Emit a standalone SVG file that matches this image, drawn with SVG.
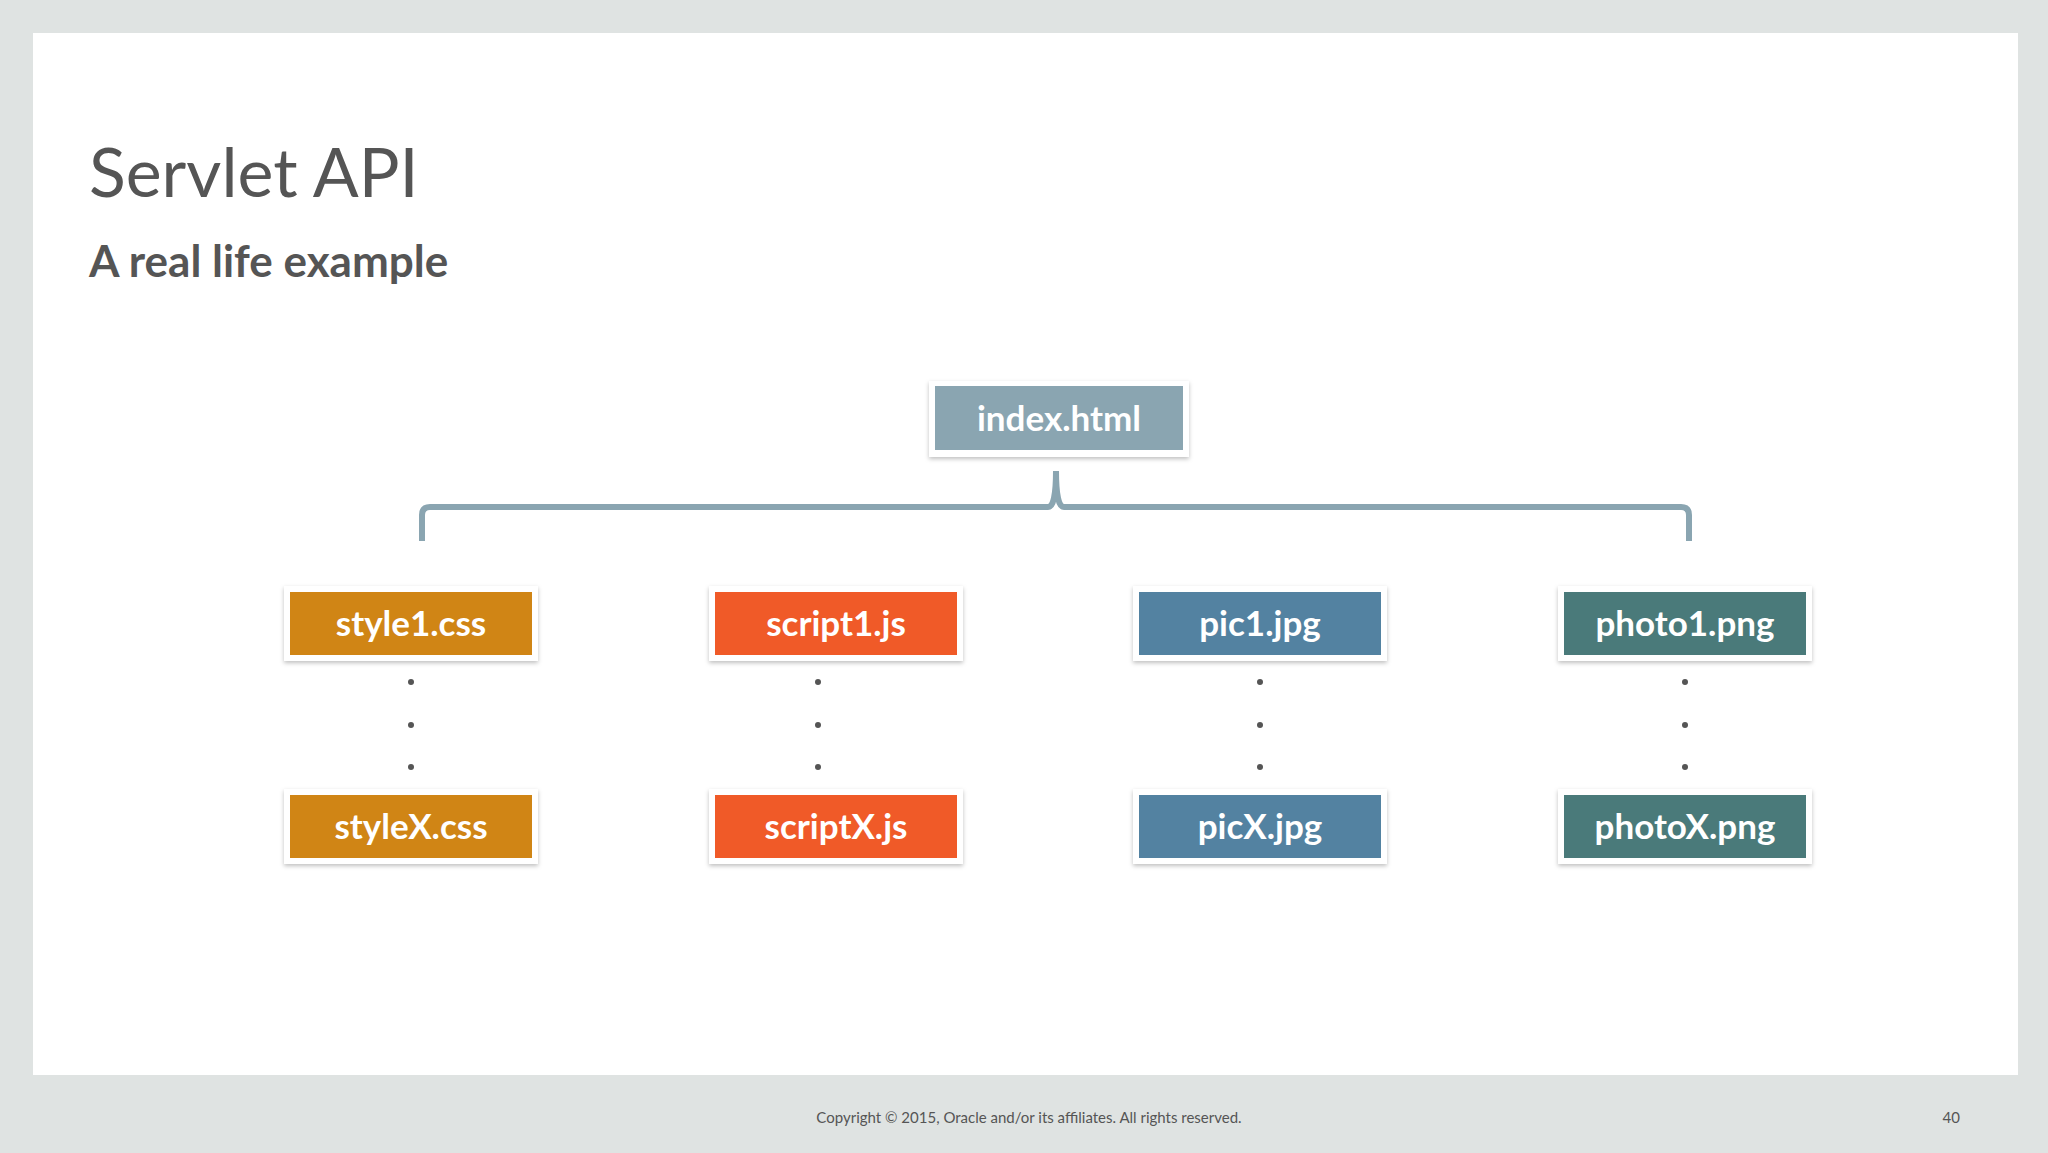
<svg xmlns="http://www.w3.org/2000/svg" width="2048" height="1153" viewBox="0 0 2048 1153">
<defs>
<filter id="sh" x="-10%" y="-20%" width="120%" height="140%"><feDropShadow dx="0" dy="2" stdDeviation="2" flood-color="#000" flood-opacity="0.25"/></filter>
<style>
.o{fill:#fff;filter:url(#sh)}
.t{font-family:Lato,"Open Sans",sans-serif;font-weight:bold;font-size:35px;fill:#fff;text-anchor:middle}
.d{fill:#555}
</style>
</defs>
<rect width="2048" height="1153" fill="#dfe3e2"/>
<rect x="33" y="33" width="1985" height="1042" fill="#fff"/>
<text x="89" y="197" font-family="Lato,'Open Sans',sans-serif" font-size="68" fill="#555">Servlet API</text>
<text x="89" y="277" font-family="Lato,'Open Sans',sans-serif" font-size="44" font-weight="bold" fill="#555">A real life example</text>
<g id="connectors">
<path d="M422 541 V515 Q422 507 430 507 H1048 Q1056 507 1056 471 Q1056 507 1064 507 H1681 Q1689 507 1689 515 V541" fill="none" stroke="#8aa5b1" stroke-width="6"/>
</g>
<g id="index"><rect class="o" x="929" y="381" width="260" height="76"/><rect x="935" y="386" width="248" height="64" fill="#8aa5b1"/><text class="t" x="1059" y="431">index.html</text></g>
<g id="style1"><rect class="o" x="284" y="586" width="254" height="75"/><rect x="290" y="592" width="242" height="63" fill="#d08515"/><text class="t" x="411" y="636">style1.css</text></g>
<g id="styleX"><rect class="o" x="284" y="789" width="254" height="75"/><rect x="290" y="795" width="242" height="63" fill="#d08515"/><text class="t" x="411" y="839">styleX.css</text></g>
<g id="script1"><rect class="o" x="709" y="586" width="254" height="75"/><rect x="715" y="592" width="242" height="63" fill="#f05a28"/><text class="t" x="836" y="636">script1.js</text></g>
<g id="scriptX"><rect class="o" x="709" y="789" width="254" height="75"/><rect x="715" y="795" width="242" height="63" fill="#f05a28"/><text class="t" x="836" y="839">scriptX.js</text></g>
<g id="pic1"><rect class="o" x="1133" y="586" width="254" height="75"/><rect x="1139" y="592" width="242" height="63" fill="#5382a1"/><text class="t" x="1260" y="636">pic1.jpg</text></g>
<g id="picX"><rect class="o" x="1133" y="789" width="254" height="75"/><rect x="1139" y="795" width="242" height="63" fill="#5382a1"/><text class="t" x="1260" y="839">picX.jpg</text></g>
<g id="photo1"><rect class="o" x="1558" y="586" width="254" height="75"/><rect x="1564" y="592" width="242" height="63" fill="#4a7a7a"/><text class="t" x="1685" y="636">photo1.png</text></g>
<g id="photoX"><rect class="o" x="1558" y="789" width="254" height="75"/><rect x="1564" y="795" width="242" height="63" fill="#4a7a7a"/><text class="t" x="1685" y="839">photoX.png</text></g>
<g id="dots">
<circle class="d" cx="411" cy="682" r="3"/><circle class="d" cx="411" cy="725" r="3"/><circle class="d" cx="411" cy="767" r="3"/>
<circle class="d" cx="818" cy="682" r="3"/><circle class="d" cx="818" cy="725" r="3"/><circle class="d" cx="818" cy="767" r="3"/>
<circle class="d" cx="1260" cy="682" r="3"/><circle class="d" cx="1260" cy="725" r="3"/><circle class="d" cx="1260" cy="767" r="3"/>
<circle class="d" cx="1685" cy="682" r="3"/><circle class="d" cx="1685" cy="725" r="3"/><circle class="d" cx="1685" cy="767" r="3"/>
</g>
<text x="1029" y="1123" font-family="Lato,'Open Sans',sans-serif" font-size="15" fill="#555" text-anchor="middle">Copyright © 2015, Oracle and/or its affiliates. All rights reserved.</text>
<text x="1960" y="1123" font-family="Lato,'Open Sans',sans-serif" font-size="15" fill="#555" text-anchor="end">40</text>
</svg>
